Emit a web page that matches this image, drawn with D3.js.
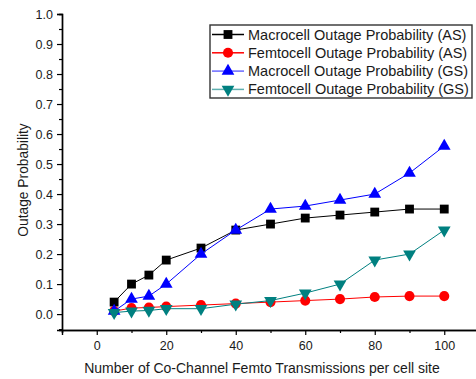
<!DOCTYPE html>
<html>
<head>
<meta charset="utf-8">
<script src="https://cdn.jsdelivr.net/npm/d3@7"></script>
<style>
  body { margin: 0; background: #fff; }
  svg text { font-family: Arial, "Liberation Sans", sans-serif; fill: #1a1a1a; }
</style>
</head>
<body>
<div class="chart"></div>
<script>
// data
var xs = [5, 10, 15, 20, 30, 40, 50, 60, 70, 80, 90, 100];
var macroAS = [0.04, 0.10, 0.13, 0.18, 0.22, 0.28, 0.30, 0.32, 0.33, 0.34, 0.35, 0.35];
var femtoAS = [0.01, 0.02, 0.022, 0.025, 0.03, 0.035, 0.04, 0.045, 0.05, 0.057, 0.06, 0.06];
var macroGS = [0.01, 0.05, 0.06, 0.10, 0.20, 0.28, 0.35, 0.36, 0.38, 0.40, 0.47, 0.56];
var femtoGS = [0.005, 0.01, 0.012, 0.018, 0.018, 0.033, 0.045, 0.07, 0.10, 0.18, 0.20, 0.28];
var names = ["Macrocell Outage Probability (AS)", "Femtocell Outage Probability (AS)",
             "Macrocell Outage Probability (GS)", "Femtocell Outage Probability (GS)"];
var xTicks = [0, 20, 40, 60, 80, 100];
var yTicks = [0, 0.1, 0.2, 0.3, 0.4, 0.5, 0.6, 0.7, 0.8, 0.9, 1.0];

var series = [
  {name: names[0], values: macroAS, color: "#000000", legendLine: "#000000", symbol: d3.symbolSquare, size: 78, rot: 0},
  {name: names[1], values: femtoAS, color: "#ff0000", legendLine: "#ff0000", symbol: d3.symbolCircle, size: 80, rot: 0},
  {name: names[2], values: macroGS, color: "#0000ff", legendLine: "#6a6aff", symbol: d3.symbolTriangle, size: 70, rot: 0},
  {name: names[3], values: femtoGS, color: "#008080", legendLine: "#5fb0b0", symbol: d3.symbolTriangle, size: 70, rot: 180}
];

var W = 476, H = 379;
var svg = d3.select(".chart").append("svg").attr("width", W).attr("height", H);

var x = d3.scaleLinear().domain([-10, 110]).range([62, 479]);
var y = d3.scaleLinear().domain([-0.053, 1.0]).range([330, 14]);

// axes
svg.append("g").attr("transform", "translate(0," + y(-0.053) + ")")
    .call(d3.axisBottom(x).tickValues(xTicks).tickSize(5).tickPadding(6).tickFormat(d3.format("d")));
svg.append("g").attr("transform", "translate(0," + y(-0.053) + ")")
    .call(d3.axisBottom(x).tickValues(d3.range(-10, 111, 20)).tickSize(3).tickFormat(""));
svg.append("g").attr("transform", "translate(" + x(-10) + ",0)")
    .call(d3.axisLeft(y).tickValues(yTicks).tickSize(5).tickPadding(4).tickFormat(d3.format(".1f")));
svg.append("g").attr("transform", "translate(" + x(-10) + ",0)")
    .call(d3.axisLeft(y).tickValues(d3.range(-0.05, 1.0, 0.1)).tickSize(3).tickFormat(""));

svg.selectAll(".domain").attr("stroke", "#000").attr("stroke-width", 1.4);
svg.selectAll(".tick line").attr("stroke", "#000").attr("stroke-width", 1.2);
svg.selectAll(".tick text").attr("font-family", null).style("font-size", "12.5px");

// axis titles
svg.append("text")
    .attr("transform", "translate(28,180)rotate(-90)")
    .attr("text-anchor", "middle")
    .style("font-size", "13.8px")
    .text("Outage Probability");
svg.append("text")
    .attr("x", 262).attr("y", 373)
    .attr("text-anchor", "middle")
    .style("font-size", "14px")
    .text("Number of Co-Channel Femto Transmissions per cell site");

// lines and markers
var line = d3.line()
    .x(function(d, i) { return x(xs[i]); })
    .y(function(d) { return y(d); });

series.forEach(function(s) {
  var g = svg.append("g");
  g.append("path")
    .attr("d", line(s.values))
    .attr("fill", "none")
    .attr("stroke", s.color)
    .attr("stroke-width", 1);
  g.selectAll("path.m")
    .data(s.values)
    .enter().append("path")
    .attr("class", "m")
    .attr("d", d3.symbol().type(s.symbol).size(s.size))
    .attr("transform", function(d, i) {
      return "translate(" + x(xs[i]) + "," + y(d) + ")rotate(" + s.rot + ")";
    })
    .attr("fill", s.color);
});

// legend
var lg = svg.append("g").attr("transform", "translate(210,25)");
lg.append("rect")
    .attr("x", 0).attr("y", 0).attr("width", 262).attr("height", 73)
    .attr("fill", "#fff").attr("stroke", "#333").attr("stroke-width", 1.4);
series.forEach(function(s, i) {
  var ry = 9.5 + i * 18.3;
  lg.append("line")
    .attr("x1", 2).attr("x2", 34).attr("y1", ry).attr("y2", ry)
    .attr("stroke", s.legendLine).attr("stroke-width", 1.5);
  lg.append("path")
    .attr("d", d3.symbol().type(s.symbol).size(s.size))
    .attr("transform", "translate(18," + ry + ")rotate(" + s.rot + ")")
    .attr("fill", s.color);
  lg.append("text")
    .attr("x", 38).attr("y", ry + 5)
    .style("font-size", "14.5px")
    .text(s.name);
});
</script>
</body>
</html>
